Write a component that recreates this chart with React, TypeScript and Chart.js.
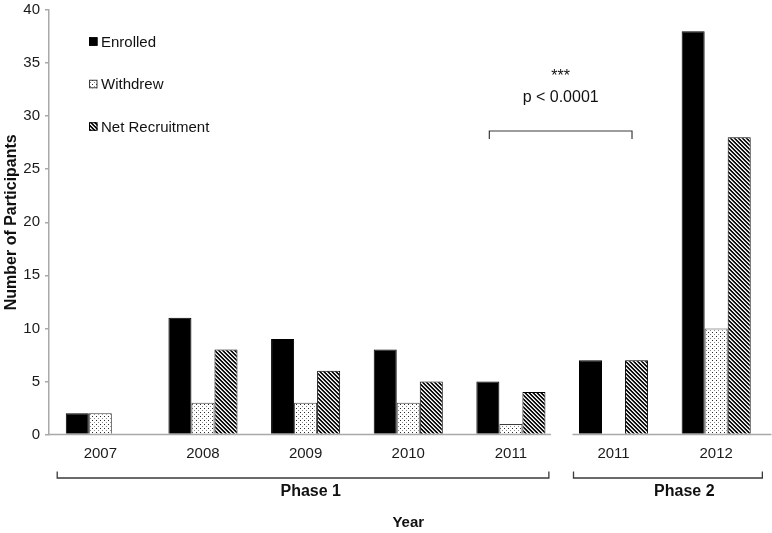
import React, { useEffect, useRef } from 'react';
import { Chart, registerables } from 'chart.js';

Chart.register(...registerables);

// ---------- data ----------
const categories = ['2007', '2008', '2009', '2010', '2011', '2011', '2012'];
const enrolled = [2, 11, 9, 8, 5, 7, 38];
const withdrew = [2, 3, 3, 3, 1, 0, 10];
const netRecruitment = [0, 8, 6, 5, 4, 7, 28];
const seriesNames = ['Enrolled', 'Withdrew', 'Net Recruitment'];
const yMin = 0;
const yMax = 40;
const yStep = 5;
const xTitle = 'Year';
const yTitle = 'Number of Participants';
const phaseLabels = ['Phase 1', 'Phase 2'];
const phaseStart = [-0.42, 4.61];
const phaseEnd = [4.37, 6.45];
const phaseLabelAt = [2.05, 5.69];
const axisBreakFrom = 4.39;
const axisBreakTo = 4.6;
const sigStars = '***';
const sigText = 'p < 0.0001';
const sigFrom = 3.79;
const sigTo = 5.18;
const sigLevel = 28.6;

const FONT = '"Liberation Sans", Arial, Helvetica, sans-serif';

function makeDots(): CanvasPattern | string {
  const c = document.createElement('canvas');
  c.width = 4;
  c.height = 4;
  const g = c.getContext('2d');
  if (!g) return '#ddd';
  g.fillStyle = '#ffffff';
  g.fillRect(0, 0, 4, 4);
  g.fillStyle = '#2a2a2a';
  g.fillRect(0, 0, 1, 1);
  g.fillStyle = '#8a8a8a';
  g.fillRect(2, 2, 1, 1);
  return g.createPattern(c, 'repeat') || '#ddd';
}

function makeHatch(): CanvasPattern | string {
  const c = document.createElement('canvas');
  c.width = 4;
  c.height = 4;
  const g = c.getContext('2d');
  if (!g) return '#666';
  g.fillStyle = '#ffffff';
  g.fillRect(0, 0, 4, 4);
  for (let yy = 0; yy < 4; yy++) {
    for (let xx = 0; xx < 4; xx++) {
      const d = (((xx - yy) % 4) + 4) % 4;
      if (d === 0) {
        g.fillStyle = '#000000';
        g.fillRect(xx, yy, 1, 1);
      } else if (d === 1) {
        g.fillStyle = '#202020';
        g.fillRect(xx, yy, 1, 1);
      } else if (d === 3) {
        g.fillStyle = '#b0b0b0';
        g.fillRect(xx, yy, 1, 1);
      }
    }
  }
  return g.createPattern(c, 'repeat') || '#666';
}

const overlayPlugin = {
  id: 'overlay',
  afterDraw(chart: any) {
    const { ctx, chartArea, scales } = chart;
    const xs = scales.x;
    const ys = scales.y;
    const base = ys.getPixelForValue(0);
    ctx.save();

    // x axis line with a break
    ctx.strokeStyle = '#a9a9a9';
    ctx.lineWidth = 1.5;
    ctx.beginPath();
    ctx.moveTo(chartArea.left, base);
    ctx.lineTo(xs.getPixelForValue(axisBreakFrom), base);
    ctx.moveTo(xs.getPixelForValue(axisBreakTo), base);
    ctx.lineTo(chartArea.right + 4, base);
    ctx.stroke();

    // phase brackets
    const by = base + 43.5;
    ctx.strokeStyle = '#3a3a3a';
    ctx.lineWidth = 1.3;
    ctx.fillStyle = '#111';
    ctx.font = `bold 16px ${FONT}`;
    ctx.textAlign = 'center';
    ctx.textBaseline = 'alphabetic';
    phaseLabels.forEach((lab, i) => {
      const x0 = xs.getPixelForValue(phaseStart[i]);
      const x1 = xs.getPixelForValue(phaseEnd[i]);
      ctx.beginPath();
      ctx.moveTo(x0, by - 6.5);
      ctx.lineTo(x0, by);
      ctx.lineTo(x1, by);
      ctx.lineTo(x1, by - 6.5);
      ctx.stroke();
      ctx.fillText(lab, xs.getPixelForValue(phaseLabelAt[i]), by + 17.5);
    });

    // x title
    ctx.font = `bold 15px ${FONT}`;
    ctx.fillText(xTitle, (chartArea.left + chartArea.right) / 2, base + 92.5);

    // y title
    ctx.save();
    ctx.translate(12, (chartArea.top + chartArea.bottom) / 2);
    ctx.rotate(-Math.PI / 2);
    ctx.textBaseline = 'middle';
    ctx.font = `bold 16px ${FONT}`;
    ctx.fillText(yTitle, 0, 0);
    ctx.restore();

    // significance bracket
    const sy = ys.getPixelForValue(sigLevel);
    const sx0 = xs.getPixelForValue(sigFrom);
    const sx1 = xs.getPixelForValue(sigTo);
    ctx.strokeStyle = '#3a3a3a';
    ctx.lineWidth = 1.2;
    ctx.beginPath();
    ctx.moveTo(sx0, sy + 8);
    ctx.lineTo(sx0, sy);
    ctx.lineTo(sx1, sy);
    ctx.lineTo(sx1, sy + 8);
    ctx.stroke();
    ctx.fillStyle = '#111';
    ctx.font = `16px ${FONT}`;
    ctx.textAlign = 'center';
    ctx.textBaseline = 'alphabetic';
    const sc = (sx0 + sx1) / 2;
    ctx.fillText(sigStars, sc, sy - 50);
    ctx.fillText(sigText, sc, sy - 29);

    // legend
    const datasets = chart.data.datasets;
    ctx.font = `15px ${FONT}`;
    ctx.textAlign = 'left';
    ctx.textBaseline = 'middle';
    datasets.forEach((ds: any, i: number) => {
      const cy = chartArea.top + 31.5 + i * 42.5;
      const mx = chartArea.left + 40;
      const size = 8.5;
      ctx.fillStyle = ds.backgroundColor;
      ctx.fillRect(mx, cy - size / 2, size, size);
      ctx.strokeStyle = ds.borderColor;
      ctx.lineWidth = 1;
      ctx.strokeRect(mx + 0.5, cy - size / 2 + 0.5, size - 1, size - 1);
      ctx.fillStyle = '#111';
      ctx.fillText(ds.label, mx + 12, cy + 1);
    });

    ctx.restore();
  },
};

export default function App() {
  const canvasRef = useRef<HTMLCanvasElement | null>(null);

  useEffect(() => {
    document.body.style.margin = '0';
    const canvas = canvasRef.current;
    if (!canvas) return;
    const dots = makeDots();
    const hatch = makeHatch();
    const bw = (c: any) => (c.raw === 0 ? 0 : 1);
    const chart = new Chart(canvas, {
      type: 'bar',
      data: {
        labels: categories,
        datasets: [
          {
            label: seriesNames[0],
            data: enrolled,
            backgroundColor: '#000000',
            borderColor: '#000000',
            borderWidth: bw,
          },
          {
            label: seriesNames[1],
            data: withdrew,
            backgroundColor: dots as any,
            borderColor: '#3c3c3c',
            borderWidth: bw,
          },
          {
            label: seriesNames[2],
            data: netRecruitment,
            backgroundColor: hatch as any,
            borderColor: '#000000',
            borderWidth: bw,
          },
        ],
      },
      options: {
        responsive: false,
        animation: false,
        events: [],
        datasets: {
          bar: {
            categoryPercentage: 0.673,
            barPercentage: 1,
            borderSkipped: 'start',
          },
        },
        layout: { padding: { top: 10, right: 4.5, bottom: 0, left: 0 } },
        plugins: {
          legend: { display: false },
          tooltip: { enabled: false },
        },
        scales: {
          x: {
            grid: { display: false, drawTicks: false },
            border: { display: false },
            ticks: {
              font: { family: FONT, size: 15 },
              color: '#1a1a1a',
              padding: 10,
              maxRotation: 0,
              autoSkip: false,
            },
            afterFit: (s: any) => {
              s.height = 98.5;
              s.paddingLeft = 0;
              s.paddingRight = 0;
            },
          },
          y: {
            min: yMin,
            max: yMax,
            ticks: {
              stepSize: yStep,
              font: { family: FONT, size: 15 },
              color: '#1a1a1a',
              padding: 5,
            },
            grid: {
              display: true,
              drawOnChartArea: false,
              drawTicks: true,
              tickLength: 4,
              color: '#a9a9a9',
              lineWidth: 1.5,
            },
            border: { display: true, color: '#a9a9a9', width: 1.5 },
            afterFit: (s: any) => {
              s.width = 49;
              s.paddingTop = 0;
              s.paddingBottom = 0;
            },
          },
        },
      },
      plugins: [overlayPlugin],
    });
    return () => chart.destroy();
  }, []);

  return (
    <div style={{ width: 772, height: 533 }}>
      <canvas ref={canvasRef} width={772} height={533} style={{ display: 'block' }} />
    </div>
  );
}
